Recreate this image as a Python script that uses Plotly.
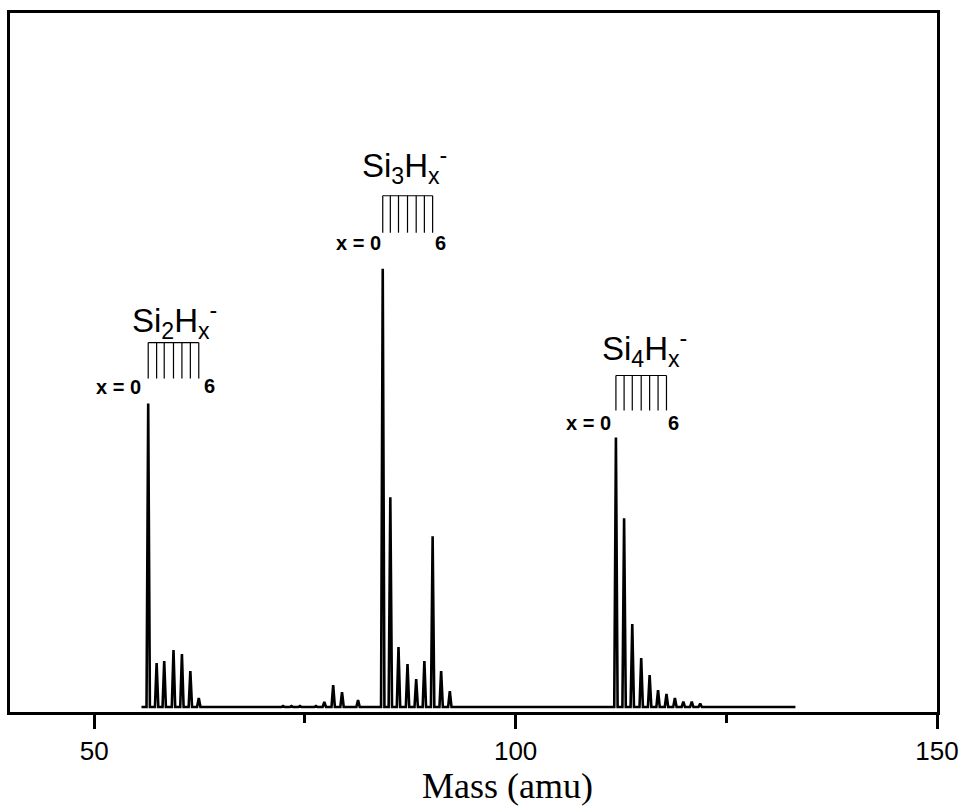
import plotly.graph_objects as go

# ---- data (peak centres in amu, peak heights in arbitrary intensity units) ----
si2_mass = [56.4, 57.4, 58.3, 59.4, 60.4, 61.4, 62.4]
si2_int = [304, 44, 46, 57, 53, 36, 9]

minor_mass = [72.4, 73.4, 74.4, 76.3, 77.3, 78.35, 79.4, 81.3]
minor_int = [1, 1, 1, 1, 5, 22, 15, 7]

si3_mass = [84.23, 85.13, 86.1, 87.17, 88.2, 89.17, 90.15, 91.16, 92.19]
si3_int = [439, 210, 60, 43, 28, 46, 171, 36, 16]

si4_mass = [111.9, 112.87, 113.84, 114.9, 115.9, 116.9, 117.9, 118.9, 119.9, 120.9, 121.9]
si4_int = [270, 189, 83, 49, 32, 17, 13, 9, 5.5, 5.5, 3.3]

scan_range = [55.6, 133.2]
baseline = 5

tick_vals = [50, 100, 150]
tick_text = ["50", "100", "150"]

# ---- build spectrum trace from the peak lists ----
peaks = sorted(zip(si2_mass + minor_mass + si3_mass + si4_mass,
                   si2_int + minor_int + si3_int + si4_int))
hw = 0.2
xs = [scan_range[0]]
ys = [baseline]
for m, h in peaks:
    xs += [m - hw, m, m + hw]
    ys += [baseline, baseline + h, baseline]
xs.append(scan_range[1])
ys.append(baseline)

fig = go.Figure()
fig.add_trace(go.Scatter(x=xs, y=ys, mode="lines",
                         line=dict(color="black", width=2.6),
                         hoverinfo="skip", showlegend=False))

# ---- comb markers (x = 0 ... 6) ----
combs = [
    (si2_mass[:7], 334, 370),
    (si3_mass[:7], 480, 517),
    (si4_mass[:7], 302, 337),
]
shapes = []
for ms, yb, yt in combs:
    shapes.append(dict(type="line", xref="x", yref="y", x0=ms[0], x1=ms[-1],
                       y0=yt, y1=yt, line=dict(color="black", width=1.2)))
    for m in ms:
        shapes.append(dict(type="line", xref="x", yref="y", x0=m, x1=m,
                           y0=yb, y1=yt, line=dict(color="black", width=1.2)))

lab_font = dict(family="Liberation Sans, Arial, sans-serif", size=33, color="black")
small_font = dict(family="Liberation Sans, Arial, sans-serif", size=20, color="black")
annotations = [
    dict(x=59.5, y=392, text="Si<sub>2</sub>H<sub>x</sub><sup>-</sup>", font=lab_font),
    dict(x=86.8, y=547, text="Si<sub>3</sub>H<sub>x</sub><sup>-</sup>", font=lab_font),
    dict(x=115.3, y=364, text="Si<sub>4</sub>H<sub>x</sub><sup>-</sup>", font=lab_font),
    dict(x=55.76, y=325, text="<b>x = 0</b>", font=small_font, xanchor="right"),
    dict(x=62.8, y=326, text="<b>6</b>", font=small_font, xanchor="left"),
    dict(x=84.31, y=470, text="<b>x = 0</b>", font=small_font, xanchor="right"),
    dict(x=90.19, y=470, text="<b>6</b>", font=small_font, xanchor="left"),
    dict(x=111.57, y=289, text="<b>x = 0</b>", font=small_font, xanchor="right"),
    dict(x=117.8, y=289, text="<b>6</b>", font=small_font, xanchor="left"),
]
for a in annotations:
    a.update(xref="x", yref="y", showarrow=False)
    a.setdefault("xanchor", "center")
    a.setdefault("yanchor", "middle")

annotations.append(dict(xref="paper", yref="paper", x=0.537, y=-0.106,
                        xanchor="center", yanchor="middle", showarrow=False,
                        text="Mass (amu)",
                        font=dict(family="Liberation Serif, Times New Roman, serif",
                                  size=36, color="black")))

fig.update_layout(
    width=969, height=806,
    margin=dict(l=10, r=22, t=12, b=94),
    paper_bgcolor="white", plot_bgcolor="white",
    shapes=shapes, annotations=annotations,
    xaxis=dict(range=[40, 150], tickvals=tick_vals, ticktext=tick_text,
               ticks="outside", ticklen=14, tickwidth=2.5, tickcolor="black",
               minor=dict(tickvals=[75, 125], ticks="outside", ticklen=8,
                          tickwidth=2.5, tickcolor="black"),
               showline=True, linecolor="black", linewidth=3, mirror=True,
               showgrid=False, zeroline=False,
               tickfont=dict(family="Liberation Sans, Arial, sans-serif", size=26, color="black")),
    yaxis=dict(range=[0, 700], showticklabels=False, ticks="",
               showline=True, linecolor="black", linewidth=3, mirror=True,
               showgrid=False, zeroline=False),
)

fig.write_html("out.html", config={"displayModeBar": False},
               post_script="document.body.style.margin='0';"
                           "document.documentElement.style.overflow='hidden';")
